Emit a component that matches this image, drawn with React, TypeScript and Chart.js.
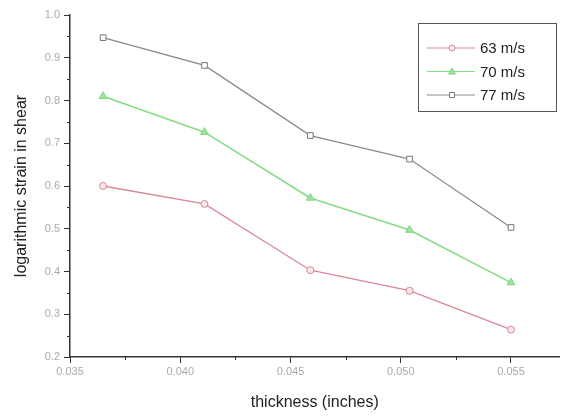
import React, { useEffect, useRef } from "react";
import { Chart, registerables } from "chart.js";

Chart.register(...registerables);

const thickness = [0.0365, 0.0411, 0.0459, 0.0504, 0.055];
const strain63 = [0.6, 0.558, 0.403, 0.355, 0.264];
const strain70 = [0.81, 0.726, 0.572, 0.497, 0.374];
const strain77 = [0.947, 0.882, 0.718, 0.663, 0.503];
const seriesLabels = ["63 m/s", "70 m/s", "77 m/s"];
const xTicks = [0.035, 0.04, 0.045, 0.05, 0.055];
const yTicks = [0.2, 0.3, 0.4, 0.5, 0.6, 0.7, 0.8, 0.9, 1.0];

const FONT = "'Liberation Sans', Arial, sans-serif";

const minorTicks = {
  id: "minorTicks",
  afterDraw(chart: any) {
    const ctx = chart.ctx;
    const x = chart.scales.x;
    const y = chart.scales.y;
    ctx.save();
    ctx.strokeStyle = "#333";
    ctx.lineWidth = 1;
    for (let i = 0; i < xTicks.length; i++) {
      const v = xTicks[i] + 0.0025;
      if (v > x.max) continue;
      const px = Math.round(x.getPixelForValue(v)) + 0.5;
      ctx.beginPath();
      ctx.moveTo(px, y.bottom);
      ctx.lineTo(px, y.bottom + 3);
      ctx.stroke();
    }
    for (let i = 0; i < yTicks.length - 1; i++) {
      const v = yTicks[i] + 0.05;
      const py = Math.round(y.getPixelForValue(v)) + 0.5;
      ctx.beginPath();
      ctx.moveTo(x.left - 3, py);
      ctx.lineTo(x.left, py);
      ctx.stroke();
    }
    ctx.restore();
  },
};

const boxLegend = {
  id: "boxLegend",
  afterDraw(chart: any) {
    const ctx = chart.ctx;
    const left = 418;
    const top = 23;
    const w = 138;
    const h = 88;
    ctx.save();
    ctx.fillStyle = "#fff";
    ctx.fillRect(left, top, w, h);
    ctx.strokeStyle = "#555";
    ctx.lineWidth = 1;
    ctx.strokeRect(left + 0.5, top + 0.5, w, h);
    chart.data.datasets.forEach((ds: any, i: number) => {
      const yy = top + 25 + i * 23.5;
      ctx.strokeStyle = ds.borderColor;
      ctx.lineWidth = 1;
      ctx.beginPath();
      ctx.moveTo(left + 9, yy);
      ctx.lineTo(left + 57, yy);
      ctx.stroke();
      const cx = left + 34;
      ctx.fillStyle = ds.pointBackgroundColor;
      ctx.strokeStyle = ds.pointBorderColor;
      ctx.beginPath();
      if (ds.pointStyle === "circle") {
        ctx.arc(cx, yy, 3, 0, Math.PI * 2);
      } else if (ds.pointStyle === "triangle") {
        ctx.moveTo(cx, yy - 3.5);
        ctx.lineTo(cx + 3.5, yy + 2.5);
        ctx.lineTo(cx - 3.5, yy + 2.5);
        ctx.closePath();
      } else {
        ctx.rect(cx - 2.5, yy - 2.5, 5, 5);
      }
      ctx.fill();
      ctx.stroke();
      ctx.fillStyle = "#222";
      ctx.font = "15px " + FONT;
      ctx.textBaseline = "middle";
      ctx.fillText(ds.label, left + 62, yy + 1);
    });
    ctx.restore();
  },
};

export default function App() {
  const ref = useRef<HTMLCanvasElement>(null);
  useEffect(() => {
    document.body.style.margin = "0";
    const mk = (vals: number[]) => vals.map((v, i) => ({ x: thickness[i], y: v }));
    const chart = new Chart(ref.current as HTMLCanvasElement, {
      type: "line",
      data: {
        datasets: [
          {
            label: seriesLabels[0],
            data: mk(strain63),
            borderColor: "#d98896",
            borderWidth: 1.3,
            pointStyle: "circle",
            pointRadius: 3.5,
            pointBackgroundColor: "#fbe6ea",
            pointBorderColor: "#cf8a96",
            pointBorderWidth: 1,
          },
          {
            label: seriesLabels[1],
            data: mk(strain70),
            borderColor: "#86dc86",
            borderWidth: 1.6,
            pointStyle: "triangle",
            pointRadius: 4.5,
            pointBackgroundColor: "#9ee39e",
            pointBorderColor: "#7fd57f",
            pointBorderWidth: 1,
          },
          {
            label: seriesLabels[2],
            data: mk(strain77),
            borderColor: "#8a8a92",
            borderWidth: 1.3,
            pointStyle: "rect",
            pointRadius: 4,
            pointBackgroundColor: "#ffffff",
            pointBorderColor: "#777",
            pointBorderWidth: 1,
          },
        ] as any,
      },
      options: {
        animation: false,
        responsive: false,
        layout: { padding: { top: 15, right: 4, left: 0, bottom: 0 } },
        plugins: { legend: { display: false }, tooltip: { enabled: false } },
        scales: {
          x: {
            type: "linear",
            min: 0.035,
            max: 0.0572,
            afterBuildTicks: (s: any) => {
              s.ticks = xTicks.map((v) => ({ value: v }));
            },
            afterFit: (s: any) => {
              s.height = 59;
            },
            grid: { display: true, drawOnChartArea: false, drawTicks: true, tickLength: 6, color: "#333" },
            border: { display: true, color: "#333", width: 1.5 },
            ticks: {
              color: "#aaa",
              font: { size: 11, family: FONT },
              padding: 2,
              maxRotation: 0,
              callback: (v: any) => Number(v).toFixed(3),
            },
            title: {
              display: true,
              text: "thickness (inches)",
              color: "#222",
              font: { size: 16, family: FONT },
              padding: { top: 4 },
            },
          },
          y: {
            type: "linear",
            min: 0.2,
            max: 1.0,
            afterBuildTicks: (s: any) => {
              s.ticks = yTicks.map((v) => ({ value: v }));
            },
            afterFit: (s: any) => {
              s.width = 70;
            },
            grid: { display: true, drawOnChartArea: false, drawTicks: true, tickLength: 6, color: "#333" },
            border: { display: true, color: "#333", width: 1.5 },
            ticks: {
              color: "#aaa",
              font: { size: 11, family: FONT },
              padding: 4,
              callback: (v: any) => Number(v).toFixed(1),
            },
            title: {
              display: true,
              text: "logarithmic strain in shear",
              color: "#222",
              font: { size: 16, family: FONT },
              padding: { top: 12, bottom: 0 },
            },
          },
        },
      } as any,
      plugins: [minorTicks, boxLegend],
    });
    return () => chart.destroy();
  }, []);
  return (
    <div style={{ position: "absolute", left: 0, top: 0, width: 565, height: 416 }}>
      <canvas ref={ref} width={565} height={416} />
    </div>
  );
}
